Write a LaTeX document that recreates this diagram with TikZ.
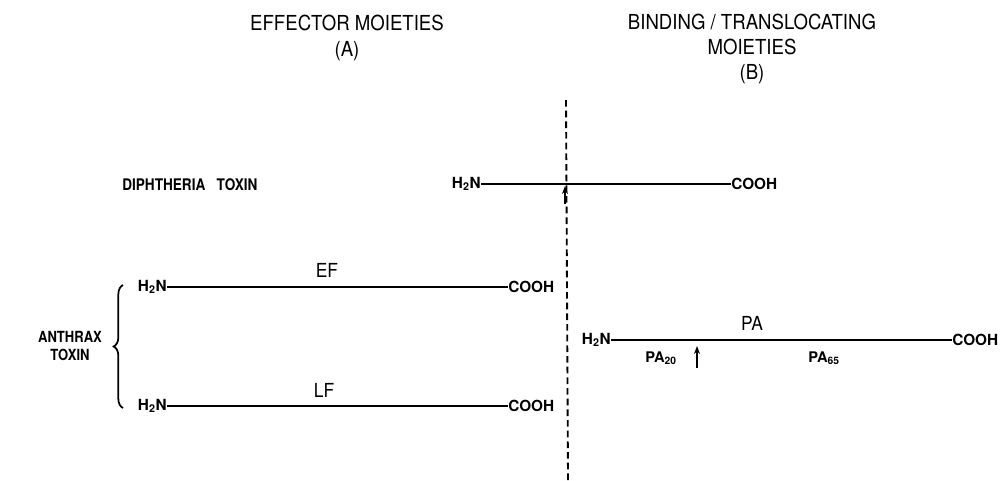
\documentclass[tikz,border=0pt]{standalone}
\usepackage{fontspec}
\setmainfont{TeX Gyre Heros}
\newfontfamily\tfont[FakeStretch=0.9]{TeX Gyre Heros}
\newfontfamily\nfont[FakeStretch=0.85]{TeX Gyre Heros}
\usetikzlibrary{arrows.meta,decorations.pathreplacing}
\begin{document}
\begin{tikzpicture}[x=0.75pt,y=-0.75pt,
  title/.style={font=\tfont\fontsize{15.5}{19}\selectfont, align=center, inner sep=0pt},
  lbl/.style={font=\nfont\bfseries\fontsize{11.5}{13}\selectfont, align=center, inner sep=0pt},
  term/.style={font=\bfseries\fontsize{11.5}{13}\selectfont, inner sep=0pt},
  sublbl/.style={font=\bfseries\fontsize{11}{13}\selectfont, inner sep=0pt},
  big/.style={font=\tfont\fontsize{14.5}{16}\selectfont, inner sep=0pt},
  chain/.style={line width=1.7pt},
  cut/.style={line width=1.3pt, -{Stealth[length=6pt,width=4.5pt]}},
  divider/.style={line width=1.4pt, dash pattern=on 5pt off 3pt}]
\useasboundingbox (0,0) rectangle (1005,480);
% titles
\node[title] (ta) at (347,38) {EFFECTOR MOIETIES\\[1pt](A)};
\node[title] (tb) at (752,49) {BINDING / TRANSLOCATING\\[0pt]MOIETIES\\[0pt](B)};
% divider
\coordinate (dtop) at (566,100);
\coordinate (dbot) at (568,480);
\draw[divider] (dtop) -- (dbot);
% diphtheria
\node[lbl, anchor=west, font=\nfont\bfseries\fontsize{12}{14}\selectfont] (dt) at (122,185) {DIPHTHERIA\ \ \ TOXIN};
\node[term, anchor=east] (dn) at (481,184) {H\textsubscript{2}N};
\node[term, anchor=west] (dc) at (731,184) {COOH};
\draw[chain] (dn.east) -- (dc.west);
\coordinate (da1) at (565,204);
\coordinate (da2) at (565,186);
\draw[cut] (da1) -- (da2);
% EF
\node[term, anchor=east] (en) at (167,287) {H\textsubscript{2}N};
\node[term, anchor=west] (ec) at (508,287) {COOH};
\draw[chain] (en.east) -- (ec.west);
\node[big] (ef) at (327,270) {EF};
% LF
\node[term, anchor=east] (ln) at (167,406) {H\textsubscript{2}N};
\node[term, anchor=west] (lc) at (508,406) {COOH};
\draw[chain] (ln.east) -- (lc.west);
\node[big] (lf) at (324,390) {LF};
% brace
\coordinate (b1) at (123,285);
\coordinate (b2) at (123,408);
\draw[line width=1.3pt, decorate, decoration={brace, amplitude=7pt}] (b2) -- (b1);
\node[lbl] (at) at (70,346) {ANTHRAX\\[1pt]TOXIN};
% PA
\node[term, anchor=east] (pn) at (611,340) {H\textsubscript{2}N};
\node[term, anchor=west] (pc) at (952,340) {COOH};
\draw[chain] (pn.east) -- (pc.west);
\node[big] (pa) at (752,323) {PA};
\node[sublbl] (p20) at (661,358) {PA\textsubscript{20}};
\node[sublbl] (p65) at (824,358) {PA\textsubscript{65}};
\coordinate (pa1) at (697,368);
\coordinate (pa2) at (697,346);
\draw[cut] (pa1) -- (pa2);
\end{tikzpicture}
\end{document}
